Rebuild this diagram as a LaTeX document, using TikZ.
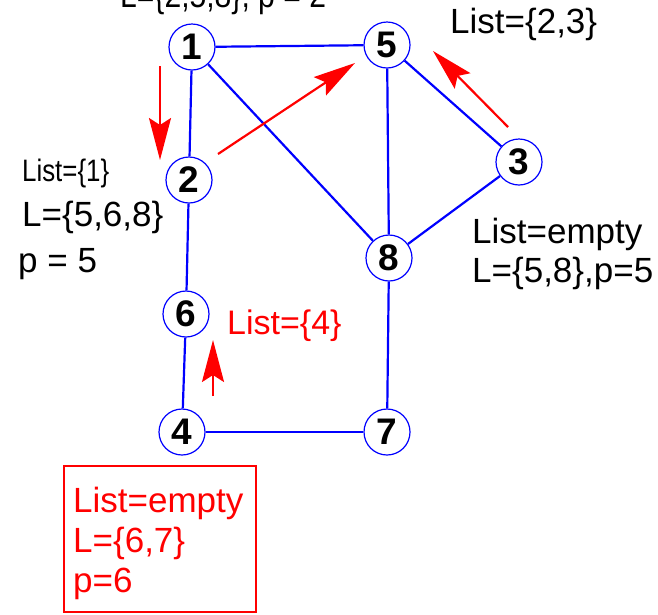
\documentclass[tikz,border=0pt]{standalone}
\usepackage{fontspec}
\setmainfont{Liberation Sans}
\usetikzlibrary{arrows.meta}
\begin{document}
\begin{tikzpicture}[
  x=1pt, y=-1pt,
  vertex/.style={circle,draw=blue,line width=1.2pt,fill=white,minimum size=46pt,
    inner sep=0pt,font=\fontsize{37}{37}\selectfont\bfseries},
  edge/.style={blue,line width=2.2pt},
  visit/.style={-{Stealth[length=42pt,width=22pt,inset=7pt]},red,line width=2.2pt},
  note/.style={anchor=base west,inner sep=0pt,font=\fontsize{35}{42}\selectfont},
  narrow/.style={note,xscale=0.86,transform shape},
  redbox/.style={draw=red,line width=2pt,minimum width=192pt,minimum height=146pt,inner sep=0pt}
]
  \clip (0,0) rectangle (658,614);
  % vertices
  \node[vertex] (v1) at (192,47) {1};
  \node[vertex] (v5) at (387,45) {5};
  \node[vertex] (v2) at (189,180) {2};
  \node[vertex] (v3) at (519,162) {3};
  \node[vertex] (v8) at (389,258) {8};
  \node[vertex] (v6) at (186,314) {6};
  \node[vertex] (v4) at (182,432) {4};
  \node[vertex] (v7) at (387,432) {7};

  % graph edges
  \draw[edge] (v1) -- (v5);
  \draw[edge] (v1) -- (v2);
  \draw[edge] (v1) -- (v8);
  \draw[edge] (v5) -- (v8);
  \draw[edge] (v5) -- (v3);
  \draw[edge] (v3) -- (v8);
  \draw[edge] (v2) -- (v6);
  \draw[edge] (v6) -- (v4);
  \draw[edge] (v4) -- (v7);
  \draw[edge] (v8) -- (v7);

  % search steps
  \coordinate (s1a) at (160,66);  \coordinate (s1b) at (160,160);
  \coordinate (s2a) at (218,154); \coordinate (s2b) at (355,63);
  \coordinate (s3a) at (508,127); \coordinate (s3b) at (433,51);
  \coordinate (s4a) at (213,396); \coordinate (s4b) at (213,340);
  \draw[visit] (s1a) -- (s1b);
  \draw[visit] (s2a) -- (s2b);
  \draw[visit] (s3a) -- (s3b);
  \draw[visit] (s4a) -- (s4b);

  % state labels
  \node[narrow] (top) at (120,7) {L=\{2,5,8\}, p = 2};
  \node[note] (list5) at (450,33) {List=\{2,3\}};
  \node[narrow,xscale=0.97,font=\fontsize{31}{31}\selectfont] (list2) at (22,181) {List=\{1\}};
  \node[note] (l2) at (22,226) {L=\{5,6,8\}};
  \node[note] (p2) at (18,272) {p = 5};
  \node[note] (list3) at (472,243) {List=empty};
  \node[note] (l3) at (472,282) {L=\{5,8\},p=5};
  \node[note,red,font=\fontsize{34}{34}\selectfont] (list6) at (227,334) {List=\{4\}};

  \node[redbox] (box) at (160,539) {};
  \node[note,red] (list4) at (73,512) {List=empty};
  \node[note,red] (l4) at (73,552) {L=\{6,7\}};
  \node[note,red] (p4) at (73,592) {p=6};
\end{tikzpicture}
\end{document}
